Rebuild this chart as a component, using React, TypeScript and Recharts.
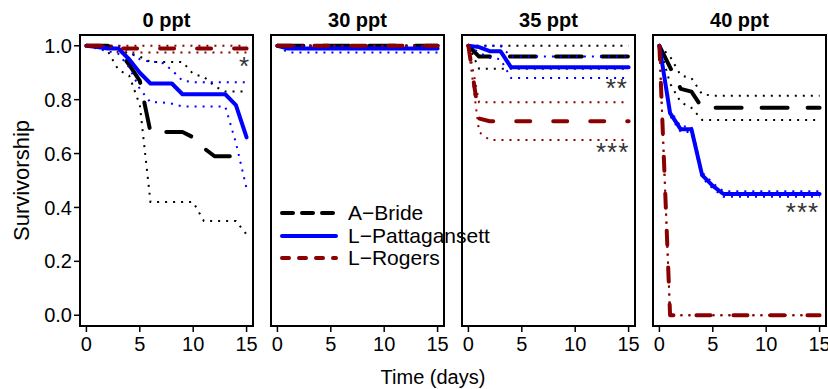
import React from "react"
import { LineChart, Line, XAxis, YAxis, ReferenceArea, ReferenceDot, Legend } from "recharts"

// survival estimates read at each day, 0..15
const DAYS = [0, 1, 2, 3, 4, 5, 6, 7, 8, 9, 10, 11, 12, 13, 14, 15]
const SALINITIES = ["0 ppt", "30 ppt", "35 ppt", "40 ppt"]
const SITES = ["A\u2212Bride", "L\u2212Pattagansett", "L\u2212Rogers"]

// 0 ppt
const bride0 = [1, 1, 1, 0.98, 0.93, 0.87, 0.68, 0.68, 0.68, 0.68, 0.66, 0.62, 0.59, 0.59, 0.59, 0.56]
const bride0Hi = [1, 1, 1, 0.99, 0.97, 0.96, 0.94, 0.94, 0.94, 0.94, 0.895, 0.885, 0.85, 0.83, 0.83, 0.83]
const bride0Lo = [1, 1, 0.98, 0.91, 0.89, 0.78, 0.42, 0.42, 0.42, 0.42, 0.42, 0.35, 0.35, 0.35, 0.35, 0.3]
const patt0 = [1, 0.995, 0.99, 0.99, 0.95, 0.9, 0.86, 0.86, 0.86, 0.82, 0.82, 0.82, 0.82, 0.82, 0.78, 0.66]
const patt0Hi = [1, 1, 1, 1, 0.98, 0.95, 0.94, 0.94, 0.91, 0.87, 0.865, 0.865, 0.865, 0.865, 0.865, 0.865]
const patt0Lo = [1, 0.99, 0.98, 0.97, 0.92, 0.84, 0.79, 0.79, 0.785, 0.775, 0.775, 0.775, 0.775, 0.775, 0.64, 0.47]
const rog0 = [1, 1, 1, 0.99, 0.99, 0.99, 0.99, 0.99, 0.99, 0.99, 0.99, 0.99, 0.99, 0.99, 0.99, 0.99]
const rog0Hi = [1, 1, 1, 1, 1, 1, 1, 1, 1, 1, 1, 1, 1, 1, 1, 1]
const rog0Lo = [1, 1, 1, 0.975, 0.975, 0.975, 0.975, 0.975, 0.975, 0.975, 0.975, 0.975, 0.975, 0.975, 0.975, 0.975]

// 30 ppt
const bride30 = [1, 1, 1, 1, 1, 1, 1, 1, 1, 1, 1, 1, 1, 1, 1, 1]
const bride30Hi = [1, 1, 1, 1, 1, 1, 1, 1, 1, 1, 1, 1, 1, 1, 1, 1]
const bride30Lo = [1, 1, 1, 1, 1, 1, 1, 1, 1, 1, 1, 1, 1, 1, 1, 1]
const patt30 = [1, 0.99, 0.99, 0.99, 0.99, 0.99, 0.99, 0.99, 0.99, 0.99, 0.99, 0.99, 0.99, 0.99, 0.99, 0.99]
const patt30Hi = [1, 1, 1, 1, 1, 1, 1, 1, 1, 1, 1, 1, 1, 1, 1, 1]
const patt30Lo = [1, 0.975, 0.975, 0.975, 0.975, 0.975, 0.975, 0.975, 0.975, 0.975, 0.975, 0.975, 0.975, 0.975, 0.975, 0.975]
const rog30 = [1, 1, 1, 1, 1, 1, 1, 1, 1, 1, 1, 1, 1, 1, 1, 1]
const rog30Hi = [1, 1, 1, 1, 1, 1, 1, 1, 1, 1, 1, 1, 1, 1, 1, 1]
const rog30Lo = [1, 1, 1, 1, 1, 1, 1, 1, 1, 1, 1, 1, 1, 1, 1, 1]

// 35 ppt
const bride35 = [1, 0.96, 0.96, 0.96, 0.96, 0.96, 0.96, 0.96, 0.96, 0.96, 0.96, 0.96, 0.96, 0.96, 0.96, 0.96]
const bride35Hi = [1, 1, 1, 1, 1, 1, 1, 1, 1, 1, 1, 1, 1, 1, 1, 1]
const bride35Lo = [1, 0.915, 0.915, 0.915, 0.915, 0.915, 0.915, 0.915, 0.915, 0.915, 0.915, 0.915, 0.915, 0.915, 0.915, 0.915]
const patt35 = [1, 0.995, 0.98, 0.98, 0.92, 0.92, 0.92, 0.92, 0.92, 0.92, 0.92, 0.92, 0.92, 0.92, 0.92, 0.92]
const patt35Hi = [1, 1, 1, 1, 0.96, 0.96, 0.96, 0.96, 0.96, 0.96, 0.96, 0.96, 0.96, 0.96, 0.96, 0.96]
const patt35Lo = [1, 0.975, 0.955, 0.95, 0.88, 0.88, 0.88, 0.88, 0.88, 0.88, 0.88, 0.88, 0.88, 0.88, 0.88, 0.88]
const rog35 = [1, 0.73, 0.72, 0.72, 0.72, 0.72, 0.72, 0.72, 0.72, 0.72, 0.72, 0.72, 0.72, 0.72, 0.72, 0.72]
const rog35Hi = [1, 0.79, 0.79, 0.79, 0.79, 0.79, 0.79, 0.79, 0.79, 0.79, 0.79, 0.79, 0.79, 0.79, 0.79, 0.79]
const rog35Lo = [1, 0.68, 0.65, 0.65, 0.65, 0.65, 0.65, 0.65, 0.65, 0.65, 0.65, 0.65, 0.65, 0.65, 0.65, 0.65]

// 40 ppt
const bride40 = [1, 0.92, 0.84, 0.83, 0.77, 0.77, 0.77, 0.77, 0.77, 0.77, 0.77, 0.77, 0.77, 0.77, 0.77, 0.77]
const bride40Hi = [1, 0.96, 0.89, 0.88, 0.82, 0.815, 0.815, 0.815, 0.815, 0.815, 0.815, 0.815, 0.815, 0.815, 0.815, 0.815]
const bride40Lo = [1, 0.86, 0.79, 0.77, 0.725, 0.725, 0.725, 0.725, 0.725, 0.725, 0.725, 0.725, 0.725, 0.725, 0.725, 0.725]
const patt40 = [1, 0.75, 0.69, 0.69, 0.52, 0.48, 0.45, 0.45, 0.45, 0.45, 0.45, 0.45, 0.45, 0.45, 0.45, 0.45]
const patt40Hi = [1, 0.76, 0.7, 0.7, 0.53, 0.49, 0.46, 0.46, 0.46, 0.46, 0.46, 0.46, 0.46, 0.46, 0.46, 0.46]
const patt40Lo = [1, 0.74, 0.68, 0.68, 0.51, 0.47, 0.44, 0.44, 0.44, 0.44, 0.44, 0.44, 0.44, 0.44, 0.44, 0.44]
const rog40 = [1, 0, 0, 0, 0, 0, 0, 0, 0, 0, 0, 0, 0, 0, 0, 0]
const rog40Hi = [1, 0, 0, 0, 0, 0, 0, 0, 0, 0, 0, 0, 0, 0, 0, 0]
const rog40Lo = [1, 0, 0, 0, 0, 0, 0, 0, 0, 0, 0, 0, 0, 0, 0, 0]

// significance marks: [panel, day, survivorship, text]
const STARS: [number, number, number, string][] = [
  [0, 14.8, 0.925, "*"],
  [2, 13.9, 0.845, "**"],
  [2, 13.5, 0.605, "***"],
  [3, 13.4, 0.385, "***"],
]

const X_TICKS = [0, 5, 10, 15]
const Y_TICKS = [0, 0.2, 0.4, 0.6, 0.8, 1]

const FONT = "'Liberation Sans', Arial, Helvetica, sans-serif"
const COLORS = ["#000000", "#0000ff", "#8b0000"]
const DASH = ["26 20", undefined, "14 23"]
const LEGEND_DASH = ["11 9", undefined, "7 10"]

const panels = [
  [bride0, bride0Hi, bride0Lo, patt0, patt0Hi, patt0Lo, rog0, rog0Hi, rog0Lo],
  [bride30, bride30Hi, bride30Lo, patt30, patt30Hi, patt30Lo, rog30, rog30Hi, rog30Lo],
  [bride35, bride35Hi, bride35Lo, patt35, patt35Hi, patt35Lo, rog35, rog35Hi, rog35Lo],
  [bride40, bride40Hi, bride40Lo, patt40, patt40Hi, patt40Lo, rog40, rog40Hi, rog40Lo],
]

const KEYS = ["s0", "s0hi", "s0lo", "s1", "s1hi", "s1lo", "s2", "s2hi", "s2lo"]

const BOX_W = 173
const PITCH = 191
const FIRST_BOX = 80
const PAD_L = 12
const PAD_R = 22
const TOP = 35
const X_AXIS_H = 63
const H = 389

function LegendBox() {
  return (
    <div style={{ fontFamily: FONT, fontSize: 21, color: "#000" }}>
      {SITES.map((name, i) => (
        <div key={name} style={{ display: "flex", alignItems: "center", height: 22.5 }}>
          <svg width={58} height={10}>
            <line
              x1={2}
              x2={56}
              y1={5}
              y2={5}
              stroke={COLORS[i]}
              strokeWidth={4}
              strokeLinecap="round"
              strokeDasharray={LEGEND_DASH[i]}
            />
          </svg>
          <span style={{ marginLeft: 10, whiteSpace: "nowrap" }}>{name}</span>
        </div>
      ))}
    </div>
  )
}

function YLabel(props: any) {
  const vb = props.viewBox
  const x = vb.x + 29
  const y = vb.y + vb.height / 2
  return (
    <text x={x} y={y} transform={`rotate(-90 ${x} ${y})`} textAnchor="middle" fontSize={22} fill="#000">
      Survivorship
    </text>
  )
}

function Panel({ index }: { index: number }) {
  const series = panels[index]
  const rows = DAYS.map((t, d) => {
    const row: Record<string, number> = { t }
    KEYS.forEach((k, j) => (row[k] = series[j][d]))
    return row
  })
  const first = index === 0
  const boxLeft = FIRST_BOX + index * PITCH
  const padL = first ? 0 : PAD_L
  const yW = first ? FIRST_BOX : 0
  const left = boxLeft - padL - yW
  const width = padL + yW + BOX_W + PAD_R

  return (
    <div style={{ position: "absolute", left, top: 0 }}>
      <LineChart width={width} height={H} data={rows} margin={{ top: TOP, right: PAD_R, bottom: 0, left: padL }}>
        <XAxis
          dataKey="t"
          type="number"
          domain={[-0.6, 15.6]}
          ticks={X_TICKS}
          interval={0}
          allowDataOverflow
          axisLine={false}
          tickLine={{ stroke: "#000", strokeWidth: 1.5 }}
          tickSize={6}
          tickMargin={5}
          height={X_AXIS_H}
          tick={{ fontSize: 20, fill: "#000" }}
        />
        <YAxis
          type="number"
          domain={[-0.04, 1.04]}
          ticks={Y_TICKS}
          allowDataOverflow
          hide={!first}
          width={yW}
          axisLine={false}
          tickLine={{ stroke: "#000", strokeWidth: 1.5 }}
          tickSize={6}
          tickMargin={2}
          tickFormatter={(v: number) => v.toFixed(1)}
          tick={{ fontSize: 20, fill: "#000" }}
          label={first ? { content: YLabel } : undefined}
        />
        {[0, 1, 2].map((s) => [
          <Line
            key={KEYS[s * 3]}
            dataKey={KEYS[s * 3]}
            name={SITES[s]}
            stroke={COLORS[s]}
            strokeWidth={4}
            strokeDasharray={DASH[s]}
            strokeLinecap="round"
            strokeLinejoin="round"
            dot={false}
            activeDot={false}
            isAnimationActive={false}
          />,
          <Line
            key={KEYS[s * 3 + 1]}
            dataKey={KEYS[s * 3 + 1]}
            legendType="none"
            stroke={COLORS[s]}
            strokeWidth={2}
            strokeDasharray="2 6"
            dot={false}
            activeDot={false}
            isAnimationActive={false}
          />,
          <Line
            key={KEYS[s * 3 + 2]}
            dataKey={KEYS[s * 3 + 2]}
            legendType="none"
            stroke={COLORS[s]}
            strokeWidth={2}
            strokeDasharray="2 6"
            dot={false}
            activeDot={false}
            isAnimationActive={false}
          />,
        ])}
        <ReferenceArea x1={-0.6} x2={15.6} y1={-0.04} y2={1.04} fill="none" stroke="#000" strokeWidth={2} />
        {STARS.filter((s) => s[0] === index).map((s, i) => (
          <ReferenceDot
            key={i}
            x={s[1]}
            y={s[2]}
            r={0}
            fill="none"
            stroke="none"
            label={{ value: s[3], position: "center", fontSize: 26, fill: "#333", letterSpacing: 1 }}
          />
        ))}
        {index === 1 && (
          <Legend
            layout="vertical"
            align="center"
            verticalAlign="middle"
            content={() => <LegendBox />}
            wrapperStyle={{ left: 21, top: 202, width: 230 }}
          />
        )}
      </LineChart>
      <div
        style={{
          position: "absolute",
          left: padL + yW,
          width: BOX_W,
          top: 10,
          textAlign: "center",
          fontWeight: "bold",
          fontSize: 20,
          lineHeight: "20px",
        }}
      >
        {SALINITIES[index]}
      </div>
    </div>
  )
}

export default function App() {
  return (
    <div
      style={{
        position: "absolute",
        left: 0,
        top: 0,
        width: 828,
        height: 389,
        overflow: "hidden",
        background: "#fff",
        fontFamily: FONT,
      }}
    >
      {[0, 1, 2, 3].map((i) => (
        <Panel key={i} index={i} />
      ))}
      <div
        style={{
          position: "absolute",
          left: 333,
          width: 200,
          top: 367,
          textAlign: "center",
          fontSize: 20,
          lineHeight: "20px",
        }}
      >
        Time (days)
      </div>
    </div>
  )
}
